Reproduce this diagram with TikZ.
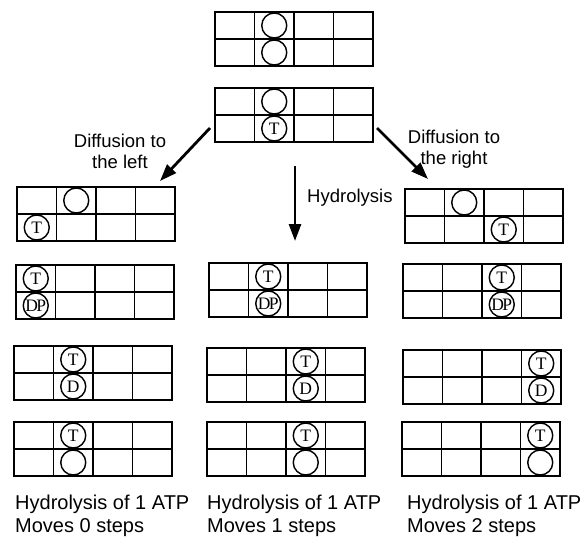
\documentclass[tikz,border=0pt]{standalone}
\usepackage{fontspec}
\setmainfont{Liberation Serif}
\newfontfamily\labelsans{Liberation Sans}
\usetikzlibrary{arrows.meta,calc}

\tikzset{
  x=1pt, y=-1pt,
  lattice/.style={draw, line width=1.8pt, minimum width=158pt, minimum height=54pt,
    inner sep=0pt, outer sep=0pt, anchor=north west},
  gridrule/.style={line width=1.6pt},
  bead/.style={circle, draw, fill=white, line width=1.4pt, minimum size=25pt,
    inner sep=0pt, font=\fontsize{17.5}{17.5}\selectfont},
  flow/.style={line width=2.8pt, -{Triangle[length=17pt,width=12pt]}},
  caption/.style={font=\labelsans\fontsize{18.5}{21}\selectfont, align=center, inner sep=0pt},
  result/.style={font=\labelsans\fontsize{20}{23}\selectfont, align=left,
    anchor=north west, inner sep=0pt},
}

% a 2 x 4 lattice: name, left edge, top edge
\newcommand\drawlattice[3]{%
  \node[lattice] (#1) at (#2,#3) {};
  \draw[gridrule] (#1.west) -- (#1.east);
  \foreach \k in {1,2,3}
    \draw[gridrule] ($(#1.north west)!\k/4!(#1.north east)$) --
                    ($(#1.south west)!\k/4!(#1.south east)$);
}
% a motor head sitting in a lattice cell: name, lattice, column, row, letter
\newcommand\placebead[5]{%
  \node[bead] (#1) at ($(#2.north west)+({(#3-0.5)*39.5},{(#4-0.5)*27})$) {#5};
}

\begin{document}
\begin{tikzpicture}
\useasboundingbox (0,0) rectangle (584,538);

% starting states
\drawlattice{A}{215}{12}
\placebead{A1}{A}{2}{1}{}
\placebead{A2}{A}{2}{2}{}

\drawlattice{B}{215}{88}
\placebead{B1}{B}{2}{1}{}
\placebead{B2}{B}{2}{2}{T}

% left branch
\drawlattice{L1}{17}{187}
\placebead{L1a}{L1}{2}{1}{}
\placebead{L1b}{L1}{1}{2}{T}

\drawlattice{L2}{16}{265}
\placebead{L2a}{L2}{1}{1}{T}
\placebead{L2b}{L2}{1}{2}{D\kern-1.5ptP}

\drawlattice{L3}{14}{346}
\placebead{L3a}{L3}{2}{1}{T}
\placebead{L3b}{L3}{2}{2}{D}

\drawlattice{L4}{14}{422}
\placebead{L4a}{L4}{2}{1}{T}
\placebead{L4b}{L4}{2}{2}{}

% middle branch
\drawlattice{M2}{209}{263}
\placebead{M2a}{M2}{2}{1}{T}
\placebead{M2b}{M2}{2}{2}{D\kern-1.5ptP}

\drawlattice{M3}{207}{348}
\placebead{M3a}{M3}{3}{1}{T}
\placebead{M3b}{M3}{3}{2}{D}

\drawlattice{M4}{207}{422}
\placebead{M4a}{M4}{3}{1}{T}
\placebead{M4b}{M4}{3}{2}{}

% right branch
\drawlattice{R1}{405}{189}
\placebead{R1a}{R1}{2}{1}{}
\placebead{R1b}{R1}{3}{2}{T}

\drawlattice{R2}{403}{264}
\placebead{R2a}{R2}{3}{1}{T}
\placebead{R2b}{R2}{3}{2}{D\kern-1.5ptP}

\drawlattice{R3}{403}{350}
\placebead{R3a}{R3}{4}{1}{T}
\placebead{R3b}{R3}{4}{2}{D}

\drawlattice{R4}{402}{422}
\placebead{R4a}{R4}{4}{1}{T}
\placebead{R4b}{R4}{4}{2}{}

% transitions
\coordinate (lefttail) at (210,128);
\coordinate (lefthead) at (160,181);
\coordinate (righttail) at (377,128);
\coordinate (righthead) at (428,179);
\coordinate (downtail) at (295,166);
\coordinate (downhead) at (295,241);
\draw[flow] (lefttail) -- (lefthead);
\draw[flow] (righttail) -- (righthead);
\draw[flow] (downtail) -- (downhead);

\node[caption] (capL) at (120,151) {Diffusion to\\the left};
\node[caption] (capR) at (454,149) {Diffusion to\\the right};
\node[caption, anchor=west] (capH) at (307,198) {Hydrolysis};

% outcomes
\node[result] (resL) at (15,495) {Hydrolysis of 1 ATP\\Moves 0 steps};
\node[result] (resM) at (207,495) {Hydrolysis of 1 ATP\\Moves 1 steps};
\node[result] (resR) at (407,495) {Hydrolysis of 1 ATP\\Moves 2 steps};
\end{tikzpicture}
\end{document}
